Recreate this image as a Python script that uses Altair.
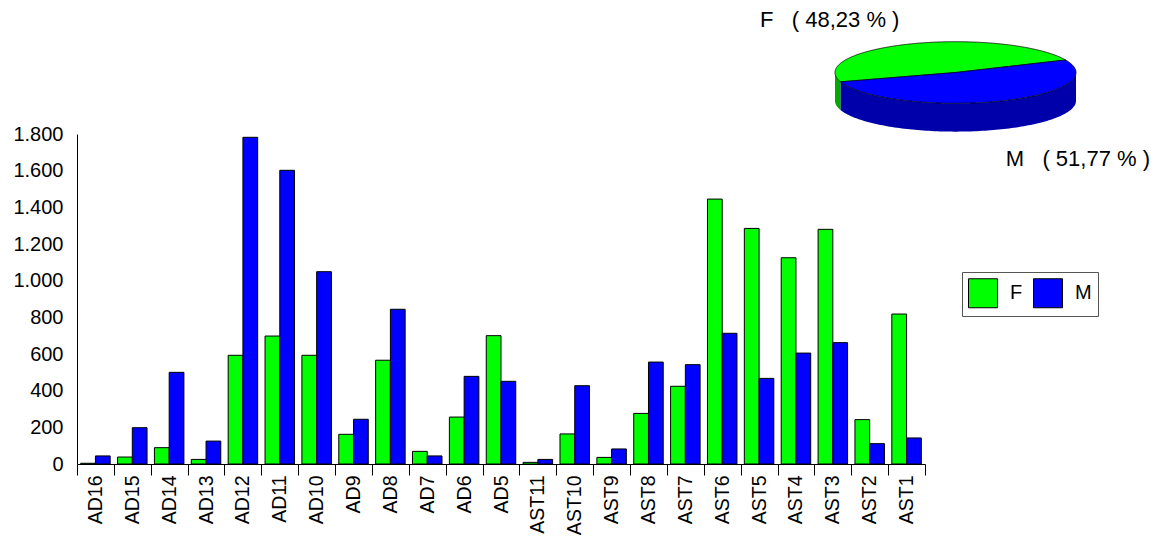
import altair as alt
import numpy as np
import pandas as pd

FONT = "Liberation Sans"
NB = "\u00a0"

# ---------------- data ----------------
categories = ["AD16", "AD15", "AD14", "AD13", "AD12", "AD11", "AD10", "AD9", "AD8",
              "AD7", "AD6", "AD5", "AST11", "AST10", "AST9", "AST8", "AST7", "AST6",
              "AST5", "AST4", "AST3", "AST2", "AST1"]
f_values = [4, 38, 89, 25, 593, 698, 593, 162, 566, 69, 256, 700,
            9, 164, 36, 276, 424, 1445, 1285, 1125, 1280, 242, 818]
m_values = [44, 198, 500, 125, 1782, 1602, 1049, 244, 844, 44, 478, 451,
            25, 427, 82, 556, 542, 713, 467, 605, 662, 111, 142]
series = ["F", "M"]
pie_pct = [48.23, 51.77]
y_ticks = [0, 200, 400, 600, 800, 1000, 1200, 1400, 1600, 1800]

series_colors = ["#00ff00", "#0000ff"]
side_colors = ["#00aa00", "#0000aa"]

# ---------------- bar table ----------------
bar_rows = []
for c, f, m in zip(categories, f_values, m_values):
    bar_rows.append({"cat": c, "sex": "F", "value": f})
    bar_rows.append({"cat": c, "sex": "M", "value": m})
bar_df = pd.DataFrame(bar_rows)

# ---------------- pie geometry (elliptic 3-D look) ----------------
start_deg = 24.0
depth = 0.92
slices = []
a = start_deg
for name, p in zip(series, pie_pct):
    a1 = a + 360.0 * p / 100.0
    slices.append((name, a, a1))
    a = a1

top_rows = []
xs_base = np.linspace(-1, 1, 401)
for name, a0, a1 in slices:
    t = np.radians(np.linspace(a0, a1, 241))
    poly = [(0.0, 0.0)] + list(zip(np.cos(t), np.sin(t)))
    pxs = np.array([q[0] for q in poly])
    xs = np.unique(np.concatenate([xs_base, pxs]))
    xs = xs[(xs >= pxs.min()) & (xs <= pxs.max())]
    n = len(poly)
    for x in xs:
        ys = []
        for i in range(n):
            x0, y0 = poly[i]
            x1, y1 = poly[(i + 1) % n]
            lo, hi = min(x0, x1), max(x0, x1)
            if lo <= x <= hi:
                if x1 == x0:
                    ys += [y0, y1]
                else:
                    ys.append(y0 + (x - x0) / (x1 - x0) * (y1 - y0))
        if ys:
            top_rows.append({"slice": name, "x": float(x), "top": max(ys), "bottom": min(ys)})
top_df = pd.DataFrame(top_rows)

side_rows = []
for name, a0, a1 in slices:
    for w0, w1 in [(180, 360), (540, 720)]:
        s, e = max(a0, w0), min(a1, w1)
        if s < e:
            t = np.radians(np.linspace(s, e, 121))
            for tt in t:
                side_rows.append({"slice": name, "x": float(np.cos(tt)),
                                  "top": float(np.sin(tt)), "bottom": float(np.sin(tt) - depth)})
side_df = pd.DataFrame(side_rows)

label_df = pd.DataFrame({
    "slice": series,
    "label": [f"{s}{NB}{NB}{NB}({NB}{p:.2f}{NB}%{NB})".replace(".", ",")
              for s, p in zip(series, pie_pct)],
})

# ---------------- bars ----------------
bars = alt.Chart(bar_df).mark_bar(stroke="black", strokeWidth=1).encode(
    x=alt.X("cat:N", sort=categories,
            scale=alt.Scale(paddingInner=0, paddingOuter=0),
            axis=alt.Axis(title=None, labelAngle=270, labelAlign="right", labelBaseline="middle",
                          labelFontSize=19.5, labelFont=FONT, labelColor="black",
                          tickBand="extent", tickSize=11, tickColor="black",
                          domainColor="black", labelPadding=0)),
    xOffset=alt.XOffset("sex:N", sort=series,
                        scale=alt.Scale(paddingOuter=0.25, paddingInner=0)),
    y=alt.Y("value:Q", scale=alt.Scale(domain=[0, 1800], nice=False),
            axis=alt.Axis(values=y_ticks, title=None, ticks=False, grid=False,
                          labelPadding=14, labelFontSize=20, labelFont=FONT,
                          labelColor="black", domainColor="black",
                          labelExpr="replace(format(datum.value, ','), ',', '.')")),
    color=alt.Color("sex:N", sort=series,
                    scale=alt.Scale(domain=series, range=series_colors),
                    legend=alt.Legend(title=None, orient="none", legendX=885, legendY=138,
                                      direction="horizontal", columns=2,
                                      symbolType="square", symbolSize=841,
                                      symbolStrokeColor="black", symbolStrokeWidth=1,
                                      labelFontSize=20, labelFont=FONT, labelColor="black",
                                      labelOffset=12, columnPadding=8, padding=6,
                                      strokeColor="#555555", fillColor="white",
                                      labelExpr="datum.label == 'M' ? 'M\u00a0' : datum.label")),
)

# ---------------- pie ----------------
px_scale = alt.Scale(domain=[-1, 1], range=[758, 999], nice=False, zero=False)
py_scale = alt.Scale(domain=[-1, 1], range=[-30.7, -92.3], nice=False, zero=False)


def side_layer(name, color):
    return alt.Chart(side_df).transform_filter(alt.datum.slice == name).mark_area(
        color=color, opacity=1).encode(
        x=alt.X("x:Q", scale=px_scale, axis=None),
        y=alt.Y("top:Q", scale=py_scale, axis=None, stack=None),
        y2="bottom:Q",
    )


def top_layer(name, color):
    return alt.Chart(top_df).transform_filter(alt.datum.slice == name).mark_area(
        color=color, opacity=1, stroke="black", strokeWidth=0.8).encode(
        x=alt.X("x:Q", scale=px_scale, axis=None),
        y=alt.Y("top:Q", scale=py_scale, axis=None, stack=None),
        y2="bottom:Q",
    )


label_f = alt.Chart(label_df).transform_filter(alt.datum.slice == "F").mark_text(
    align="left", baseline="alphabetic", fontSize=22, font=FONT, color="black").encode(
    text="label:N", x=alt.value(683), y=alt.value(-107.3))
label_m = alt.Chart(label_df).transform_filter(alt.datum.slice == "M").mark_text(
    align="right", baseline="alphabetic", fontSize=22, font=FONT, color="black").encode(
    text="label:N", x=alt.value(1073), y=alt.value(31.7))

layers = [bars]
for name, col in zip(series, side_colors):
    layers.append(side_layer(name, col))
for name, col in zip(series, series_colors):
    layers.append(top_layer(name, col))
layers += [label_f, label_m]

chart = alt.layer(*layers).resolve_scale(
    x="independent", y="independent"
).properties(
    width=848, height=330,
    autosize=alt.AutoSizeParams(type="none"),
    padding={"left": 69, "top": 126, "right": 226, "bottom": 72},
).configure_view(strokeWidth=0)

chart.save("out.html", embed_options={"renderer": "svg", "actions": False})
